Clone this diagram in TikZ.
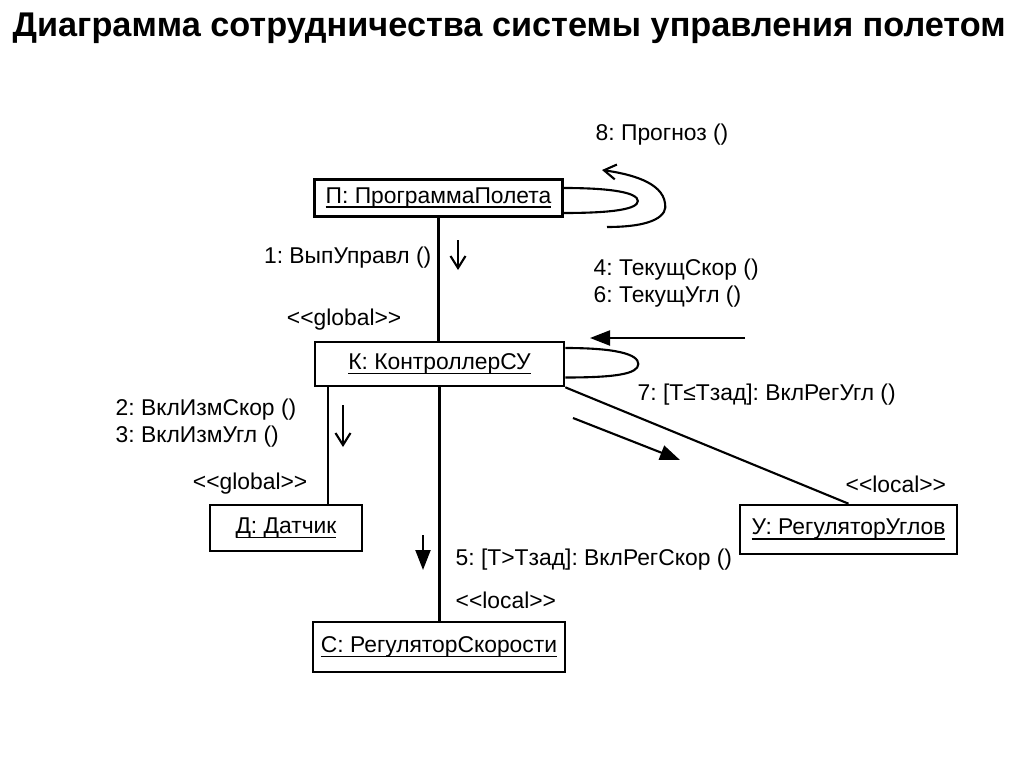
\documentclass[tikz,border=0pt]{standalone}
\usepackage{fontspec}
\newfontfamily\lblfont{Liberation Sans}
\newfontfamily\ttlfont{Liberation Sans}
\usetikzlibrary{arrows.meta,calc}
\frenchspacing
\newsavebox\ulbox
\newcommand\objname[1]{\sbox\ulbox{#1}\rlap{\rule[-1.3pt]{\wd\ulbox}{0.45pt}}\usebox\ulbox}

\begin{document}
\begin{tikzpicture}[
every node/.style={font=\lblfont\fontsize{6.5}{7.7}\selectfont},
obj/.style={draw,line width=0.75pt,inner sep=2pt},
lnk/.style={line width=0.6pt},
msg/.style={line width=0.6pt,-{Straight Barb[length=1.2mm,width=1.5mm]}},
msgf/.style={line width=0.6pt,-{Triangle[length=2mm,width=1.5mm]}},
lbl/.style={inner sep=0pt,align=left}
]
\useasboundingbox (0,0) rectangle (10.24,7.67);
\fill[white] (0,0) rectangle (10.24,7.67);
\node[font=\ttlfont\bfseries\fontsize{9.75}{11}\selectfont,inner sep=0pt,anchor=base west] (title) at (0.12,7.31) {Диаграмма сотрудничества системы управления полетом};

\node[obj,minimum width=2.48cm,minimum height=0.37cm] (prog) at (4.385,5.69) {\objname{П: ПрограммаПолета}};
\node[obj,minimum width=2.49cm,minimum height=0.44cm] (ctrl) at (4.395,4.03) {\objname{К: КонтроллерСУ}};
\node[obj,minimum width=1.52cm,minimum height=0.46cm] (sens) at (2.86,2.39) {\objname{Д: Датчик}};
\node[obj,minimum width=2.17cm,minimum height=0.49cm] (angl) at (8.485,2.375) {\objname{У: РегуляторУглов}};
\node[obj,minimum width=2.52cm,minimum height=0.50cm] (spd) at (4.39,1.20) {\objname{С: РегуляторСкорости}};

\draw[lnk] (prog.south) -- (prog.south |- ctrl.north);
\draw[lnk] (ctrl.south) -- (ctrl.south |- spd.north);
\draw[lnk] ($(ctrl.south west)+(0.14,0)$) coordinate (cs) -- (cs |- sens.north);
\draw[lnk] (ctrl.south east) -- (angl.north);

\coordinate (ptip) at ($(prog.east)+(0.74,-0.03)$);
\draw[lnk] ($(prog.east)+(0,0.1)$) .. controls +(0.5,0) and +(0,0.08) .. (ptip) .. controls +(0,-0.08) and +(0.5,0) .. ($(prog.east)+(0,-0.15)$);
\coordinate (ctip) at ($(ctrl.east)+(0.73,0)$);
\draw[lnk] ($(ctrl.east)+(0,0.16)$) .. controls +(0.5,0) and +(0,0.1) .. (ctip) .. controls +(0,-0.1) and +(0.5,0) .. ($(ctrl.east)+(0,-0.135)$);

\coordinate (m8a) at (6.07,5.40);
\coordinate (m8b) at (6.02,5.97);
\draw[msg] (m8a) .. controls (6.55,5.40) and (6.68,5.52) .. (6.65,5.64) .. controls (6.62,5.85) and (6.3,5.93) .. (m8b);
\coordinate (m1a) at (4.58,5.27);
\coordinate (m1b) at (4.58,4.97);
\draw[msg] (m1a) -- (m1b);
\coordinate (m2a) at (3.43,3.62);
\coordinate (m2b) at (3.43,3.20);
\draw[msg] (m2a) -- (m2b);
\coordinate (m4a) at (7.45,4.29);
\coordinate (m4b) at (5.90,4.29);
\draw[msgf] (m4a) -- (m4b);
\coordinate (m5a) at (4.23,2.32);
\coordinate (m5b) at (4.23,1.97);
\draw[msgf] (m5a) -- (m5b);
\coordinate (m7a) at (5.73,3.49);
\coordinate (m7b) at (6.80,3.07);
\draw[msgf] (m7a) -- (m7b);

\node[lbl,anchor=west] (l8) at (5.95,6.32) {8: Прогноз ()};
\node[lbl,anchor=east] (l1) at (4.32,5.09) {1: ВыпУправл ()};
\node[lbl,anchor=east] (g1) at (4.02,4.47) {<{}<global>{}>};
\node[lbl,anchor=west] (l46) at (5.93,4.835) {4: ТекущСкор ()\\6: ТекущУгл ()};
\node[lbl,anchor=west] (l23) at (1.15,3.435) {2: ВклИзмСкор ()\\3: ВклИзмУгл ()};
\node[lbl,anchor=east] (g2) at (3.08,2.83) {<{}<global>{}>};
\node[lbl,anchor=west] (l5) at (4.55,2.07) {5: [T>Tзад]: ВклРегСкор ()};
\node[lbl,anchor=west] (lc1) at (4.55,1.67) {<{}<local>{}>};
\node[lbl,anchor=west] (l7) at (6.37,3.72) {7: [T≤Tзад]: ВклРегУгл ()};
\node[lbl,anchor=west] (lc2) at (8.45,2.83) {<{}<local>{}>};
\end{tikzpicture}
\end{document}
